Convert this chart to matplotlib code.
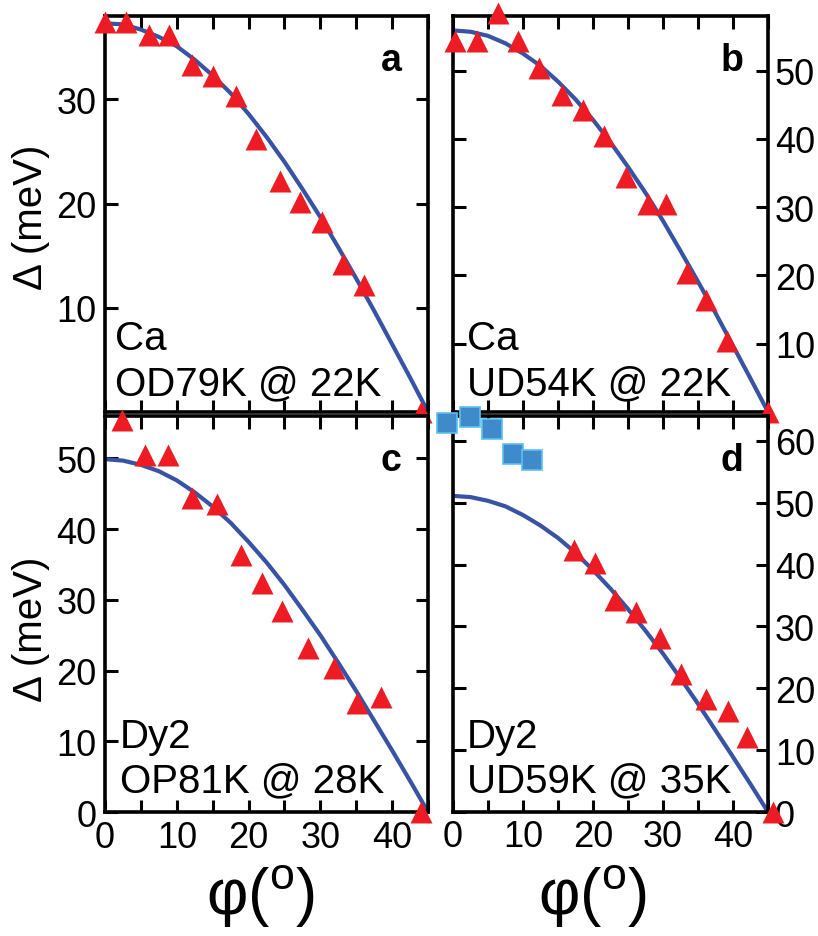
import matplotlib.pyplot as plt

plt.rcParams['font.family'] = ['Liberation Sans', 'DejaVu Sans']
plt.rcParams['mathtext.fontset'] = 'custom'
plt.rcParams['mathtext.rm'] = 'Liberation Sans'

# fit curve, every 2.5 degrees
phi_fit = [0, 2.5, 5, 7.5, 10, 12.5, 15, 17.5, 20, 22.5, 25, 27.5, 30, 32.5, 35, 37.5, 40, 42.5, 45]
fit_a = [37.3, 37.2, 36.7, 36.0, 35.1, 33.8, 32.3, 30.6, 28.6, 26.4, 24.0, 21.4, 18.7, 15.8, 12.8, 9.7, 6.5, 3.3, 0]
fit_b = [55.9, 55.7, 55.1, 54.0, 52.5, 50.7, 48.4, 45.8, 42.8, 39.5, 35.9, 32.1, 28.0, 23.6, 19.1, 14.5, 9.7, 4.9, 0]
fit_c = [49.9, 49.7, 49.1, 48.2, 46.9, 45.2, 43.2, 40.9, 38.2, 35.3, 32.1, 28.6, 25.0, 21.1, 17.1, 12.9, 8.7, 4.4, 0]
fit_d = [51.1, 50.9, 50.3, 49.4, 48.0, 46.3, 44.3, 41.9, 39.1, 36.1, 32.8, 29.3, 25.6, 21.6, 17.5, 13.2, 8.9, 4.5, 0]

# measured gaps (triangles)
phi_a = [0, 2.9, 6.1, 8.9, 12.1, 15.1, 18.2, 21.1, 24.4, 27.2, 30.2, 33.2, 36.1, 44]
gap_a = [37.4, 37.4, 36.2, 36.2, 33.3, 32.2, 30.3, 26.2, 22.2, 20.2, 18.2, 14.2, 12.2, 0]

phi_b = [0.3, 3.4, 6.4, 9.3, 12.3, 15.5, 18.5, 21.6, 24.7, 27.8, 30.4, 33.4, 36.2, 39.2, 45]
gap_b = [54.4, 54.4, 58.5, 54.4, 50.4, 46.4, 44.3, 40.5, 34.4, 30.5, 30.5, 20.4, 16.4, 10.4, 0]

phi_c = [2.3, 5.6, 8.8, 12.1, 15.6, 18.9, 21.8, 24.7, 28.3, 31.9, 35.1, 38.5, 44]
gap_c = [55.5, 50.5, 50.5, 44.4, 43.5, 36.4, 32.4, 28.4, 23.2, 20.3, 15.4, 16.2, 0]

phi_d = [17.3, 20.3, 23.1, 26.2, 29.6, 32.6, 36.1, 39.3, 42.0, 45.7]
gap_d = [42.3, 40.3, 34.2, 32.3, 28.2, 22.3, 18.3, 16.3, 12.2, 0]

# extra points in d (squares)
phi_sq = [-0.8, 2.4, 5.5, 8.6, 11.3]
gap_sq = [62.8, 63.9, 61.9, 57.9, 56.9]

red = '#ED1C24'
navy = '#3953A4'

fig = plt.figure(figsize=(8.18, 9.37), dpi=100)

ax_a = fig.add_axes([0.1284, 0.5592, 0.3949, 0.4226])
ax_b = fig.add_axes([0.5538, 0.5592, 0.3851, 0.4226])
ax_c = fig.add_axes([0.1284, 0.1323, 0.3949, 0.4226])
ax_d = fig.add_axes([0.5538, 0.1323, 0.3851, 0.4226])

panels = [
    (ax_a, fit_a, phi_a, gap_a, 38, [10, 20, 30], 'left', False, 'a', 'Ca', 'OD79K @ 22K'),
    (ax_b, fit_b, phi_b, gap_b, 58, [10, 20, 30, 40, 50], 'right', False, 'b', 'Ca', 'UD54K @ 22K'),
    (ax_c, fit_c, phi_c, gap_c, 56, [0, 10, 20, 30, 40, 50], 'left', True, 'c', 'Dy2', 'OP81K @ 28K'),
    (ax_d, fit_d, phi_d, gap_d, 64, [0, 10, 20, 30, 40, 50, 60], 'right', True, 'd', 'Dy2', 'UD59K @ 35K'),
]

for ax, fit, phi, gap, ytop, yt, side, bottom, letter, line1, line2 in panels:
    ax.plot(phi_fit, fit, color=navy, lw=3, zorder=2, solid_capstyle='butt')
    ax.plot(phi, gap, '^', color=red, ms=16, mec='none', clip_on=False, zorder=5)
    ax.set_xlim(0, 45)
    ax.set_ylim(0, ytop)
    ax.set_xticks(range(0, 46, 5))
    if bottom:
        ax.set_xticklabels(['0', '', '10', '', '20', '', '30', '', '40', ''])
    else:
        ax.set_xticklabels([])
    ax.set_yticks(yt)
    ax.tick_params(direction='in', length=9, width=2.2, top=True, right=True,
                   labelsize=26, pad=6)
    if side == 'right':
        ax.tick_params(labelleft=False, labelright=True, pad=5)
    for sp in ax.spines.values():
        sp.set_linewidth(2.6)
    ax.text(0.885, 0.888, letter, transform=ax.transAxes, fontsize=27,
            fontweight='bold', ha='center', va='center')
    y1, y2 = (0.159, 0.045) if not bottom else (0.164, 0.051)
    x0 = 0.03 if ax is ax_a else 0.045
    ax.text(x0, y1, line1, transform=ax.transAxes, fontsize=29, va='baseline')
    ax.text(x0, y2, line2, transform=ax.transAxes, fontsize=29, va='baseline')

ax_d.plot(phi_sq, gap_sq, 's', color='#3F8ACB', mec='#5CC0EE', mew=1.2, ms=14,
          clip_on=False, zorder=6)

for ax, yc in [(ax_a, 0.494), (ax_c, 0.465)]:
    ax.set_ylabel('Δ (meV)', fontsize=29)
    ax.yaxis.set_label_coords(-0.17, yc)

for ax, xc in [(ax_c, 0.48), (ax_d, 0.444)]:
    ax.set_xlabel('φ($^{\\mathrm{o}}$)', fontsize=46)
    ax.xaxis.set_label_coords(xc, -0.125)

plt.savefig('out.png', dpi=100)
